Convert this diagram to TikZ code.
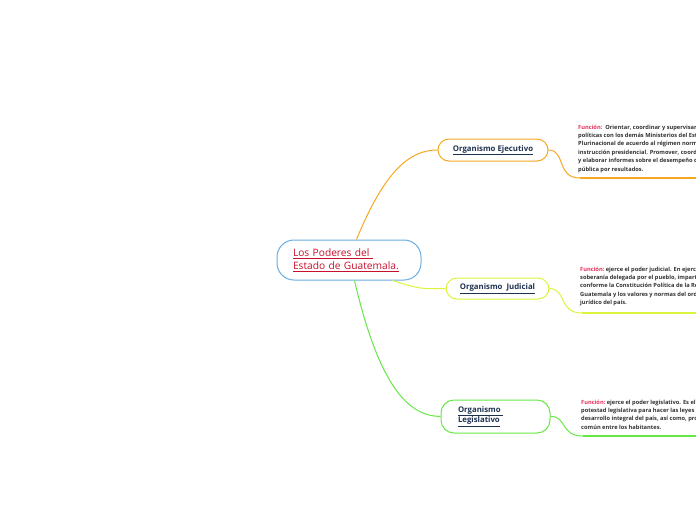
\documentclass[tikz,border=0pt]{standalone}
\usepackage{fontspec}
\setmainfont{Open Sans}
\definecolor{cblue}{HTML}{6BAEDF}
\definecolor{corange}{HTML}{F7A823}
\definecolor{cyel}{HTML}{DCF53C}
\definecolor{cgreen}{HTML}{66E846}
\definecolor{cred}{HTML}{C8102E}
\definecolor{cnavy}{HTML}{1E3250}
\definecolor{cdesc}{HTML}{333333}
\definecolor{cfun}{HTML}{E8305A}
\tikzset{
  central/.style={draw=cblue, line width=1pt, rounded corners=17pt, minimum width=144pt, minimum height=40pt, inner xsep=16pt, text width=112pt, align=left, text=cred, font=\fontsize{10.2}{13}\selectfont},
  orgbox/.style={line width=1pt, rounded corners=11pt, minimum height=22pt, text=cnavy, font=\fontsize{7.8}{10.8}\selectfont\bfseries, inner sep=0pt},
  desc/.style={anchor=north west, inner sep=0pt, align=left, text=cdesc, font=\fontsize{5.7}{8.4}\selectfont\bfseries},
  conn/.style={line width=1pt},
  uline/.style={line width=1.4pt}
}
\newcommand{\fun}{\textcolor{cfun}{Función:}}
\begin{document}
\begin{tikzpicture}[x=1pt,y=-1pt]
\useasboundingbox (0,0) rectangle (696,520);
\clip (0,0) rectangle (696,520);
\fill[white] (0,0) rectangle (696,520);

\node[central] (c) at (349,260) {\underline{Los Poderes del\ }\\\underline{Estado de Guatemala.}};

\node[orgbox, draw=corange, minimum width=110pt] (ej) at (493,150) {\underline{Organismo Ejecutivo}};
\node[orgbox, draw=cyel, minimum width=103pt, minimum height=21pt] (ju) at (497.5,288.5) {\underline{Organismo\ \ Judicial}};
\node[orgbox, draw=cgreen, minimum width=109pt, minimum height=33pt, rounded corners=13pt, text width=75pt, align=left, inner xsep=17pt] (le) at (495.5,416.5) {\underline{Organismo\ }\\\underline{Legislativo}};

% connectors from central node
\draw[conn, corange] ([xshift=80pt]c.north west) .. controls (385,170) and (410,150) .. (ej.west);
\draw[conn, cyel] ([xshift=116pt]c.south west) .. controls (420,289) .. (ju.west);
\draw[conn, cgreen] ([xshift=78pt]c.south west) .. controls (380,390) and (410,416) .. (le.west);

% description underline connectors
\coordinate (ea) at (580,178);
\coordinate (eb) at (700,178);
\coordinate (ja) at (582,313);
\coordinate (jb) at (700,313);
\coordinate (la) at (583,436);
\coordinate (lb) at (700,436);
\draw[conn, corange] (ej.east) .. controls (566,150) and (556,178) .. (ea);
\draw[uline, corange] (ea) -- (eb);
\draw[conn, cyel] (ju.east) .. controls (567,289) and (558,313) .. (ja);
\draw[uline, cyel] (ja) -- (jb);
\draw[conn, cgreen] (le.east) .. controls (567,416) and (560,436) .. (la);
\draw[uline, cgreen] (la) -- (lb);

% descriptions
\node[desc] (de) at (578,124.5) {\fun\ \ Orientar, coordinar y supervisar acciones y\\
políticas con los demás Ministerios del Estado\\
Plurinacional de acuerdo al régimen normativo e\\
instrucción presidencial. Promover, coordinar, dar\\
y elaborar informes sobre el desempeño de la gestión\\
pública por resultados.};
\node[desc] (dj) at (580,266.5) {\fun\ ejerce el poder judicial. En ejercicio de la\\
soberanía delegada por el pueblo, imparte justicia\\
conforme la Constitución Política de la República de\\
Guatemala y los valores y normas del ordenamiento\\
jurídico del país.};
\node[desc] (dl) at (581,399.5) {\fun\ ejerce el poder legislativo. Es el órgano con\\
potestad legislativa para hacer las leyes para el\\
desarrollo integral del país, así como, promover el bien\\
común entre los habitantes.};
\end{tikzpicture}
\end{document}
